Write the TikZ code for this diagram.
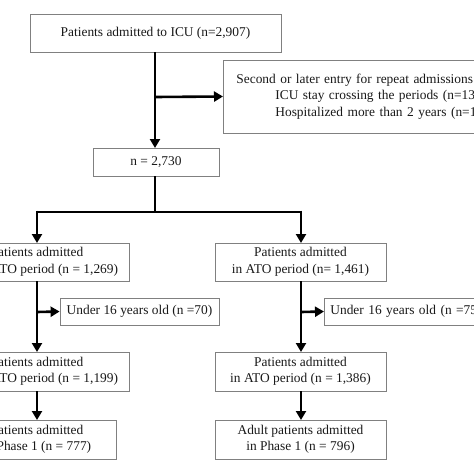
\documentclass[tikz,border=0pt]{standalone}
\usepackage{fontspec}
\setmainfont{Liberation Serif}
\usetikzlibrary{arrows.meta}
\begin{document}
\begin{tikzpicture}[x=1pt,y=-1pt,
  box/.style={draw=black!50, line width=0.8pt, fill=white, inner sep=0pt, align=center,
    font=\fontsize{13.4}{16.5}\selectfont, text=black!90},
  conn/.style={line width=2.6pt, -{Triangle[length=9pt,width=10pt]}},
  plain/.style={line width=2.6pt}]
\clip (0,0) rectangle (474,474);
\useasboundingbox (0,0) rectangle (474,474);
\fill[white] (0,0) rectangle (474,474);

\node[box, minimum width=251pt, minimum height=38pt] (top) at (155.5,33) {Patients admitted to ICU (n=2,907)};
\node[box, anchor=west, text width=290pt, minimum height=73pt, inner xsep=13pt, align=left] (excl) at (223,96.5)
  {Second or later entry for repeat admissions\\
   \hspace*{39pt}ICU stay crossing the periods (n=137)\\
   \hspace*{39pt}Hospitalized more than 2 years (n=1)};
\node[box, minimum width=126pt, minimum height=28pt] (n) at (156,162) {n = 2,730};

\node[box, minimum width=184pt, minimum height=38pt] (l4) at (37,262) {Patients admitted\\in pre-ATO period (n = 1,269)};
\node[box, minimum width=171pt, minimum height=38pt] (r4) at (300.5,262) {Patients admitted\\in ATO period (n= 1,461)};

\node[box, minimum width=159pt, minimum height=27pt] (l5) at (139.5,311.5) {Under 16 years old (n =70)};
\node[box, anchor=west, text width=170pt, minimum height=27pt, inner xsep=6pt, align=left] (r5) at (324,311.5) {Under 16 years old (n =75)};

\node[box, minimum width=184pt, minimum height=39pt] (l6) at (37,371.5) {Patients admitted\\in pre-ATO period (n = 1,199)};
\node[box, minimum width=171pt, minimum height=39pt] (r6) at (300.5,371.5) {Patients admitted\\in ATO period (n = 1,386)};

\node[box, minimum width=158pt, minimum height=39pt] (l7) at (37,439.5) {Patients admitted\\in Phase 1 (n = 777)};
\node[box, minimum width=171pt, minimum height=39pt] (r7) at (300.5,439.5) {Adult patients admitted\\in Phase 1 (n = 796)};

\coordinate (split) at (155,212);

\draw[conn] (top.south -| 155,0) -- (155,148);
\draw[conn] (155,97) -- (excl.west);
\draw[plain] (155,176) -- (split);
\draw[plain] (37,212) -- (301,212);
\draw[conn] (37,210.7) -- (37,243);
\draw[conn] (301,210.7) -- (301,243);

\draw[conn] (37,281) -- (37,352);
\draw[conn] (37,312) -- (l5.west);
\draw[conn] (301,281) -- (301,352);
\draw[conn] (301,312) -- (r5.west);

\draw[conn] (37,391) -- (37,420);
\draw[conn] (301,391) -- (301,420);
\end{tikzpicture}
\end{document}
